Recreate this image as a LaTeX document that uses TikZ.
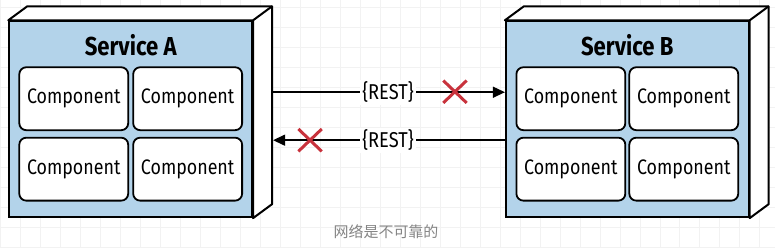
\documentclass[tikz,border=0pt]{standalone}
\usepackage{fontspec}
\setmainfont{Fira Sans}
\newfontfamily\condfont[FakeStretch=0.85]{Fira Sans}
\newfontfamily\cjk{Noto Sans CJK SC}
\usetikzlibrary{arrows.meta, positioning, calc}
\definecolor{svcblue}{HTML}{B3D3EA}
\definecolor{xred}{HTML}{C8323C}
\definecolor{capgray}{HTML}{858585}
\definecolor{gridgray}{HTML}{F2F2F2}

\begin{document}
\begin{tikzpicture}[
  x=1pt, y=1pt,
  >={Triangle[length=12pt, width=11pt]},
  service/.style={
    draw=black, line width=2pt, fill=svcblue,
    minimum width=243pt, minimum height=196pt, inner sep=0pt
  },
  comp/.style={
    draw=black, line width=1.8pt, fill=white, rounded corners=7pt,
    minimum width=109pt, minimum height=63pt, inner sep=0pt,
    font=\condfont\fontsize{21}{23}\selectfont
  },
  title/.style={font=\condfont\bfseries\fontsize{26}{28}\selectfont},
  rest/.style={font=\condfont\fontsize{21.5}{23}\selectfont, fill=white, inner sep=2pt},
  arr/.style={->, line width=1.5pt, black},
  xmark/.style={xred, line width=3pt},
]

% Background
\fill[white] (0,0) rectangle (775,247);
\draw[gridgray, line width=0.6pt, step=20pt] (0,0) grid (775,247);
\useasboundingbox (0,0) rectangle (775,247);

% =============================================
% Service A
% =============================================
\node[service] (svcA) at (130.5,128) {};
\draw[line width=2pt, fill=white, line join=round]
  (svcA.north west) -- ++(19,14) -| ([shift={(19,14)}]svcA.south east)
  -- (svcA.south east) -- (svcA.north east) -- cycle;
\draw[line width=2pt] (svcA.north east) -- ++(19,14);
\node[title] (titleA) at (130.5,202) {Service A};

\node[comp] (a11) at (73.5,148.5) {Component};
\node[comp] (a12) at (187.5,148.5) {Component};
\node[comp] (a21) at (73.5,78) {Component};
\node[comp] (a22) at (187.5,78) {Component};

% =============================================
% Service B
% =============================================
\node[service] (svcB) at (627.5,128) {};
\draw[line width=2pt, fill=white, line join=round]
  (svcB.north west) -- ++(19,14) -| ([shift={(19,14)}]svcB.south east)
  -- (svcB.south east) -- (svcB.north east) -- cycle;
\draw[line width=2pt] (svcB.north east) -- ++(19,14);
\node[title] (titleB) at (627.5,202) {Service B};

\node[comp] (b11) at (571,148.5) {Component};
\node[comp] (b12) at (684,148.5) {Component};
\node[comp] (b21) at (571,78) {Component};
\node[comp] (b22) at (684,78) {Component};

% =============================================
% REST calls
% =============================================
\coordinate (aOut) at ([shift={(20,27)}]svcA.east);
\coordinate (aIn) at ([shift={(20,-21)}]svcA.east);
\coordinate (bIn) at ([yshift=27]svcB.west);
\coordinate (bOut) at ([yshift=-21]svcB.west);

\draw[arr] (aOut) -- (bIn);
\draw[arr] (bOut) -- (aIn);
\node[rest] (rest1) at (388,155) {\{REST\}};
\node[rest] (rest2) at (388,107) {\{REST\}};

% Broken links
\node[inner sep=0pt, minimum width=23pt, minimum height=22pt] (x1) at (455,155.5) {};
\draw[xmark] (x1.north west) -- (x1.south east) (x1.south west) -- (x1.north east);
\node[inner sep=0pt, minimum width=23pt, minimum height=22pt] (x2) at (310,107) {};
\draw[xmark] (x2.north west) -- (x2.south east) (x2.south west) -- (x2.north east);

% Caption
\node[font=\cjk\fontsize{15}{17}\selectfont, text=capgray] (caption) at (386,15) {网络是不可靠的};

\end{tikzpicture}
\end{document}
